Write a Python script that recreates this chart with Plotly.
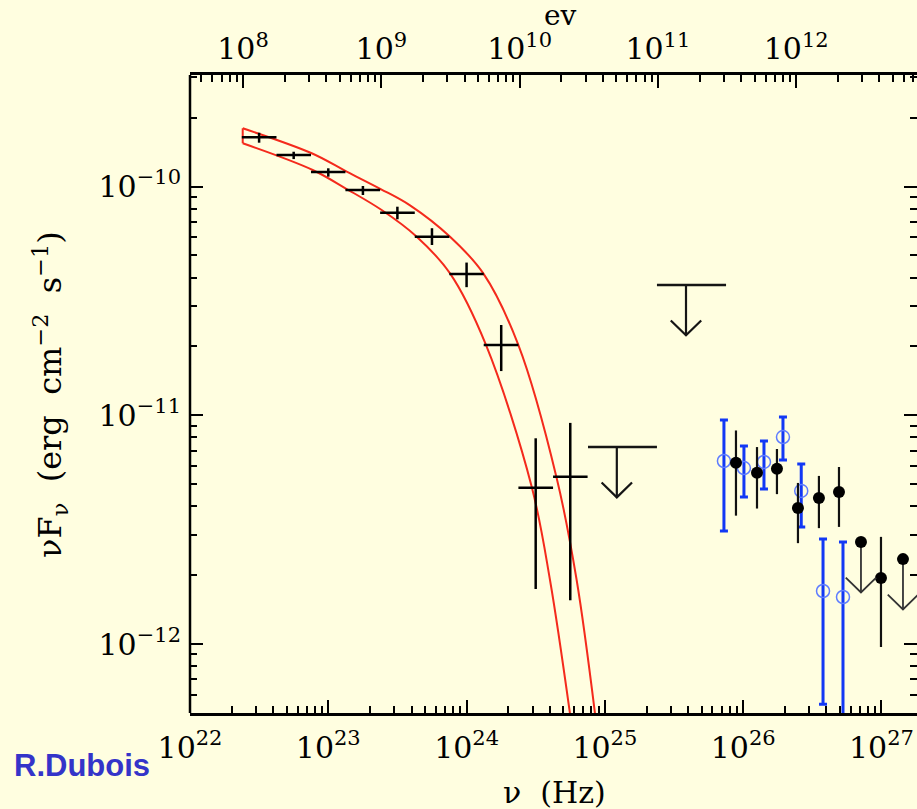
import math
import plotly.graph_objects as go

# ---------------- data ----------------
# Fermi-LAT spectral points (Hz, erg cm^-2 s^-1)
lat_nu = [3.16e22, 5.62e22, 1.0e23, 1.78e23, 3.16e23, 5.62e23, 1.0e24, 1.78e24, 3.16e24, 5.62e24]
lat_bin_edges = [2.37e22, 4.22e22, 7.5e22, 1.33e23, 2.37e23, 4.22e23, 7.5e23, 1.33e24, 2.37e24, 4.22e24, 7.5e24]
lat_flux = [1.64e-10, 1.374e-10, 1.157e-10, 9.65e-11, 7.68e-11, 6.03e-11, 4.14e-11, 2.03e-11, 4.82e-12, 5.38e-12]
lat_flux_lo = [1.554e-10, 1.318e-10, 1.104e-10, 9.18e-11, 7.19e-11, 5.55e-11, 3.63e-11, 1.56e-11, 1.74e-12, 1.553e-12]
lat_flux_hi = [1.718e-10, 1.419e-10, 1.201e-10, 1.005e-10, 8.16e-11, 6.57e-11, 4.65e-11, 2.48e-11, 7.93e-12, 9.26e-12]

# Fermi-LAT upper limits
lat_ul_nu = [1.22e25, 3.86e25]
lat_ul_nu_lo = [7.55e24, 2.38e25]
lat_ul_nu_hi = [2.38e25, 7.52e25]
lat_ul_flux = [7.26e-12, 3.71e-11]

# TeV spectrum, filled points
tev_nu = [8.87e25, 1.259e26, 1.755e26, 2.49e26, 3.53e26, 4.93e26, 9.92e26]
tev_flux = [6.20e-12, 5.61e-12, 5.84e-12, 3.93e-12, 4.35e-12, 4.62e-12, 1.943e-12]
tev_flux_lo = [3.64e-12, 3.91e-12, 4.52e-12, 2.76e-12, 3.21e-12, 3.25e-12, 9.7e-13]
tev_flux_hi = [8.58e-12, 7.26e-12, 7.12e-12, 5.06e-12, 5.43e-12, 5.94e-12, 2.94e-12]
tev_ul_nu = [7.11e26, 1.431e27]
tev_ul_flux = [2.79e-12, 2.35e-12]

# TeV spectrum, open points
tev2_nu = [7.26e25, 1.013e26, 1.414e26, 1.94e26, 2.63e26, 3.78e26, 5.27e26]
tev2_flux = [6.31e-12, 5.88e-12, 6.25e-12, 8.03e-12, 4.67e-12, 1.705e-12, 1.605e-12]
tev2_flux_lo = [3.12e-12, 4.39e-12, 4.76e-12, 6.37e-12, 3.25e-12, 5.46e-13, 3.0e-13]
tev2_flux_hi = [9.53e-12, 7.34e-12, 7.72e-12, 9.82e-12, 6.12e-12, 2.88e-12, 2.79e-12]

# LAT fit confidence band (upper and lower edges)
band_upper_nu = [2.405e22, 7.59e22, 1.358e23, 2.393e23, 3.90e23, 7.59e23, 1.321e24, 2.366e24,
                 4.48e24, 6.25e24, 8.48e24]
band_upper_flux = [1.796e-10, 1.397e-10, 1.162e-10, 9.75e-11, 8.27e-11, 6.03e-11, 4.17e-11, 2.03e-11,
                   5.32e-12, 1.905e-12, 4.98e-13]
band_lower_nu = [2.405e22, 7.71e22, 1.358e23, 2.433e23, 4.36e23, 7.59e23, 1.381e24, 2.957e24,
                 4.01e24, 5.59e24]
band_lower_flux = [1.545e-10, 1.181e-10, 9.75e-11, 7.89e-11, 6.03e-11, 4.17e-11, 2.03e-11, 4.87e-12,
                   1.905e-12, 4.98e-13]

# axis ticks
x_tickvals = [1e22, 1e23, 1e24, 1e25, 1e26, 1e27]
x_ticktext = ["10<sup>22</sup>", "10<sup>23</sup>", "10<sup>24</sup>", "10<sup>25</sup>",
              "10<sup>26</sup>", "10<sup>27</sup>"]
ev_tickvals = [1e8, 1e9, 1e10, 1e11, 1e12]
ev_ticktext = ["10<sup>8</sup>", "10<sup>9</sup>", "10<sup>10</sup>", "10<sup>11</sup>", "10<sup>12</sup>"]
y_tickvals = [1e-12, 1e-11, 1e-10]
y_ticktext = ["10<sup>\u221212</sup>", "10<sup>\u221211</sup>", "10<sup>\u221210</sup>"]

# ---------------- style ----------------
BG = "#FFFEE0"
RED = "#F42A1C"
BLUE = "#1238F5"
LIGHTBLUE = "#5E7CFF"
SERIF = "DejaVu Serif"
EV_HZ = 2.417989e14          # Hz per eV
X_LOG_RANGE = [22.0, 27.257]
Y_LOG_RANGE = [-12.3016, -9.5126]

# arrow geometry in decades
SHAFT = 0.22
HEAD_DX = 0.11
HEAD_DY = 0.065


def arrow_path(xs, ys):
    px, py = [], []
    for x, y in zip(xs, ys):
        tip = y * 10 ** (-SHAFT)
        px += [x, x, None, x * 10 ** (-HEAD_DX), x, x * 10 ** HEAD_DX, None]
        py += [y, tip, None, tip * 10 ** HEAD_DY, tip, tip * 10 ** HEAD_DY, None]
    return px, py


fig = go.Figure()

# confidence band
fig.add_trace(go.Scatter(x=band_upper_nu, y=band_upper_flux, mode="lines",
                         line=dict(color=RED, width=2, shape="spline", smoothing=1.0),
                         hoverinfo="skip"))
fig.add_trace(go.Scatter(x=band_lower_nu, y=band_lower_flux, mode="lines",
                         line=dict(color=RED, width=2, shape="spline", smoothing=1.0),
                         hoverinfo="skip"))
fig.add_trace(go.Scatter(x=[band_upper_nu[0], band_lower_nu[0]],
                         y=[band_upper_flux[0], band_lower_flux[0]], mode="lines",
                         line=dict(color=RED, width=2), hoverinfo="skip"))

# LAT points
fig.add_trace(go.Scatter(
    x=lat_nu, y=lat_flux, mode="markers",
    marker=dict(size=1, color="black", opacity=0),
    error_x=dict(type="data", symmetric=False,
                 array=[lat_bin_edges[i + 1] - v for i, v in enumerate(lat_nu)],
                 arrayminus=[v - lat_bin_edges[i] for i, v in enumerate(lat_nu)],
                 color="black", thickness=2.5, width=0),
    error_y=dict(type="data", symmetric=False,
                 array=[h - f for h, f in zip(lat_flux_hi, lat_flux)],
                 arrayminus=[f - l for f, l in zip(lat_flux, lat_flux_lo)],
                 color="black", thickness=2.5, width=0),
    hoverinfo="skip"))

# LAT upper limits
ul_bx, ul_by = [], []
for lo, hi, f in zip(lat_ul_nu_lo, lat_ul_nu_hi, lat_ul_flux):
    ul_bx += [lo, hi, None]
    ul_by += [f, f, None]
fig.add_trace(go.Scatter(x=ul_bx, y=ul_by, mode="lines",
                         line=dict(color="#151515", width=2.5), hoverinfo="skip"))
ax, ay = arrow_path(lat_ul_nu, lat_ul_flux)
fig.add_trace(go.Scatter(x=ax, y=ay, mode="lines",
                         line=dict(color="#151515", width=2.2), hoverinfo="skip"))

# TeV open points
fig.add_trace(go.Scatter(
    x=tev2_nu, y=tev2_flux, mode="markers",
    marker=dict(symbol="circle-open", size=13, color=LIGHTBLUE, line=dict(width=1.5)),
    error_y=dict(type="data", symmetric=False,
                 array=[h - f for h, f in zip(tev2_flux_hi, tev2_flux)],
                 arrayminus=[f - l for f, l in zip(tev2_flux, tev2_flux_lo)],
                 color=BLUE, thickness=3, width=4),
    hoverinfo="skip"))

# TeV filled points
fig.add_trace(go.Scatter(
    x=tev_nu, y=tev_flux, mode="markers",
    marker=dict(symbol="circle", size=12, color="black"),
    error_y=dict(type="data", symmetric=False,
                 array=[h - f for h, f in zip(tev_flux_hi, tev_flux)],
                 arrayminus=[f - l for f, l in zip(tev_flux, tev_flux_lo)],
                 color="#111111", thickness=2.2, width=0),
    hoverinfo="skip"))

# TeV upper limits
ax, ay = arrow_path(tev_ul_nu, tev_ul_flux)
fig.add_trace(go.Scatter(x=ax, y=ay, mode="lines",
                         line=dict(color="#333333", width=1.8), hoverinfo="skip"))
fig.add_trace(go.Scatter(x=tev_ul_nu, y=tev_ul_flux, mode="markers",
                         marker=dict(symbol="circle", size=12, color="black"),
                         hoverinfo="skip"))

# carrier trace for the energy axis on top
fig.add_trace(go.Scatter(x=[1e10], y=[1e-11], xaxis="x2", mode="markers",
                         marker=dict(size=1, opacity=0), hoverinfo="skip"))

tick_common = dict(ticks="inside", tickcolor="black", tickwidth=2, ticklen=13,
                   showgrid=False, zeroline=False,
                   tickfont=dict(family=SERIF, size=30, color="black"))
minor_common = dict(ticks="inside", ticklen=7, tickwidth=2, tickcolor="black",
                    dtick="D1", showgrid=False)

fig.update_layout(
    width=917, height=809,
    margin=dict(l=190, r=0, t=75, b=96),
    paper_bgcolor=BG, plot_bgcolor=BG,
    showlegend=False,
    xaxis=dict(type="log", range=X_LOG_RANGE, tickmode="array",
               tickvals=x_tickvals, ticktext=x_ticktext,
               showline=True, linecolor="black", linewidth=2.5,
               minor=minor_common, ticklabelstandoff=6, **tick_common),
    xaxis2=dict(type="log", overlaying="x", side="top", anchor="y",
                range=[v - math.log10(EV_HZ) for v in X_LOG_RANGE],
                tickmode="array", tickvals=ev_tickvals, ticktext=ev_ticktext,
                showline=True, linecolor="black", linewidth=2.5,
                minor=minor_common, ticklabelstandoff=1, **tick_common),
    yaxis=dict(type="log", range=Y_LOG_RANGE, tickmode="array",
               tickvals=y_tickvals, ticktext=y_ticktext,
               showline=False, mirror="ticks",
               minor=minor_common, ticklabelstandoff=8, **tick_common),
    shapes=[dict(type="line", xref="paper", yref="paper", x0=0, x1=0, y0=0, y1=1,
                 line=dict(color="black", width=2.5))],
    annotations=[
        dict(text="\u03bd  (Hz)", xref="paper", yref="paper", x=0.502, y=-0.125,
             xanchor="center", yanchor="middle", showarrow=False,
             font=dict(family=SERIF, size=30, color="black")),
        dict(text="\u03bdF<sub>\u03bd</sub>  (erg  cm<sup>\u22122</sup>  s<sup>\u22121</sup>)",
             xref="paper", yref="paper", x=-0.1926, y=0.5, textangle=-90,
             xanchor="center", yanchor="middle", showarrow=False,
             font=dict(family=SERIF, size=32, color="black")),
        dict(text="ev", xref="paper", yref="paper", x=0.51, y=1.094,
             xanchor="center", yanchor="middle", showarrow=False,
             font=dict(family=SERIF, size=28, color="black")),
        dict(text="<b>R.Dubois</b>", xref="paper", yref="paper", x=-0.1486, y=-0.083,
             xanchor="center", yanchor="middle", showarrow=False,
             font=dict(family="Liberation Sans", size=31, color="#3434C9")),
    ],
)

fig.write_html("out.html")
